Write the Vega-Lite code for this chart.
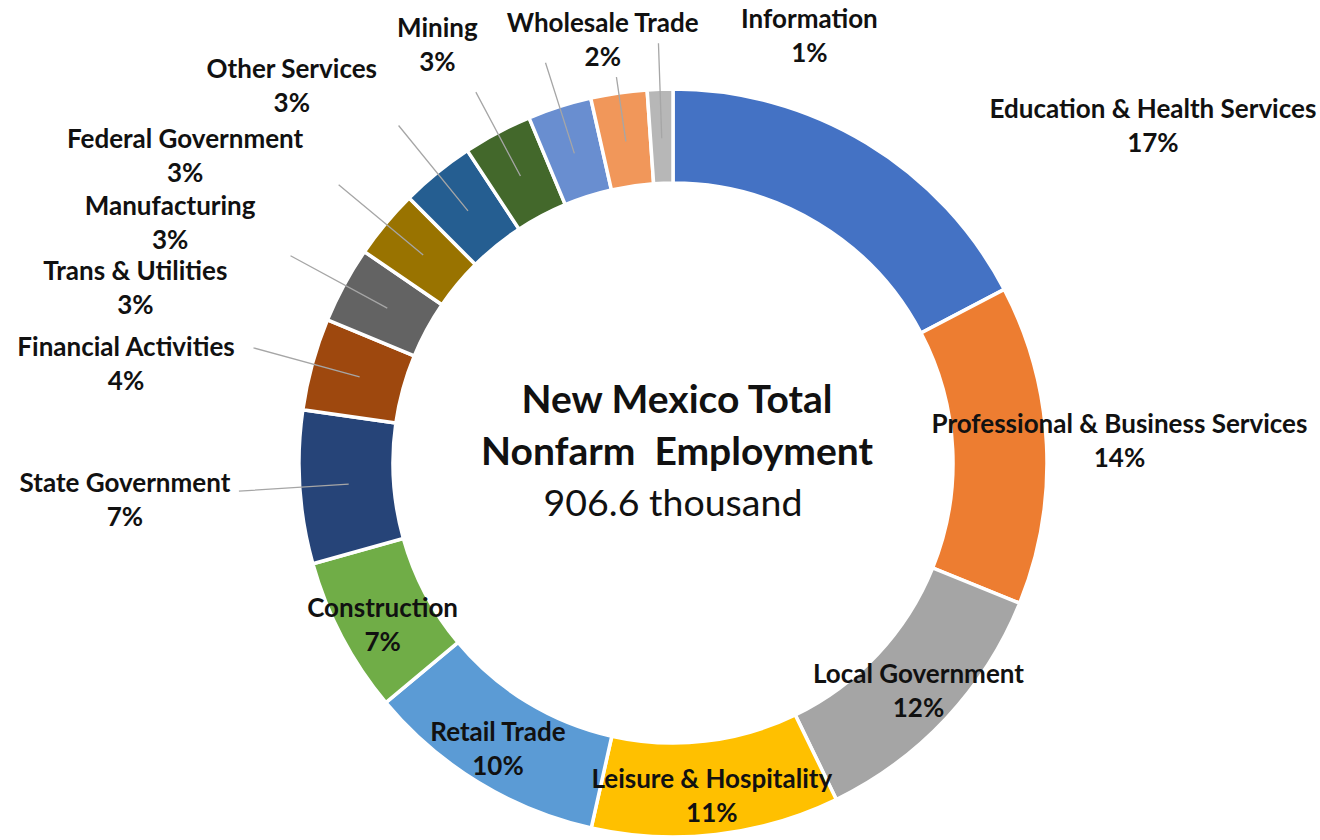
{
  "$schema": "https://vega.github.io/schema/vega-lite/v6.json",
  "width": 1294,
  "height": 754,
  "autosize": {"type": "none"},
  "padding": {"left": 26, "top": 86, "right": 0, "bottom": 0},
  "background": "white",
  "config": {"view": {"stroke": null}, "font": "Lato"},
  "data": {
    "values": [
      {"order": 1, "sector": "Education & Health Services", "value": 157.0, "pct": "17%"},
      {"order": 2, "sector": "Professional & Business Services", "value": 125.1, "pct": "14%"},
      {"order": 3, "sector": "Local Government", "value": 106.0, "pct": "12%"},
      {"order": 4, "sector": "Leisure & Hospitality", "value": 97.0, "pct": "11%"},
      {"order": 5, "sector": "Retail Trade", "value": 94.5, "pct": "10%"},
      {"order": 6, "sector": "Construction", "value": 61.0, "pct": "7%"},
      {"order": 7, "sector": "State Government", "value": 60.0, "pct": "7%"},
      {"order": 8, "sector": "Financial Activities", "value": 36.0, "pct": "4%"},
      {"order": 9, "sector": "Trans & Utilities", "value": 30.0, "pct": "3%"},
      {"order": 10, "sector": "Manufacturing", "value": 27.0, "pct": "3%"},
      {"order": 11, "sector": "Federal Government", "value": 29.0, "pct": "3%"},
      {"order": 12, "sector": "Other Services", "value": 27.0, "pct": "3%"},
      {"order": 13, "sector": "Mining", "value": 25.0, "pct": "3%"},
      {"order": 14, "sector": "Wholesale Trade", "value": 22.0, "pct": "2%"},
      {"order": 15, "sector": "Information", "value": 10.0, "pct": "1%"}
    ]
  },
  "transform": [
    {"window": [{"op": "sum", "field": "value", "as": "cum"}], "sort": [{"field": "order", "order": "ascending"}]},
    {"joinaggregate": [{"op": "sum", "field": "value", "as": "total"}]},
    {"calculate": "(datum.cum - datum.value) / datum.total", "as": "t0"},
    {"calculate": "datum.cum / datum.total", "as": "t1"},
    {"calculate": "(datum.cum - datum.value / 2) / datum.total", "as": "tm"},
    {"calculate": "datum.sector + '\\n' + datum.pct", "as": "label"}
  ],
  "layer": [
    {
      "mark": {"type": "arc", "outerRadius": 374, "innerRadius": 280, "stroke": "white", "strokeWidth": 3.5},
      "encoding": {
        "theta": {"field": "t0", "type": "quantitative", "stack": null, "scale": {"domain": [0, 1], "range": [0, 6.283185307179586], "zero": true, "nice": false}},
        "theta2": {"field": "t1"},
        "color": {
          "field": "sector", "type": "nominal", "legend": null,
          "scale": {
            "domain": ["Education & Health Services", "Professional & Business Services", "Local Government", "Leisure & Hospitality", "Retail Trade", "Construction", "State Government", "Financial Activities", "Trans & Utilities", "Manufacturing", "Federal Government", "Other Services", "Mining", "Wholesale Trade", "Information"],
            "range": ["#4472C4", "#ED7D31", "#A5A5A5", "#FFC000", "#5B9BD5", "#70AD47", "#264478", "#9E480E", "#636363", "#997300", "#255E91", "#43682B", "#698ED0", "#F1975A", "#B7B7B7"]
          }
        }
      }
    },
    {
      "transform": [{"filter": {"field": "sector", "oneOf": ["State Government", "Financial Activities", "Trans & Utilities", "Manufacturing", "Federal Government"]}}],
      "mark": {"type": "arc", "innerRadius": 325, "outerRadius": 435, "stroke": "#A6A6A6", "strokeWidth": 1.3, "fillOpacity": 0},
      "encoding": {
        "theta": {"field": "tm", "type": "quantitative", "stack": null},
        "theta2": {"field": "tm"}
      }
    },
    {
      "transform": [{"filter": {"field": "sector", "oneOf": ["Other Services", "Mining", "Information"]}}],
      "mark": {"type": "arc", "innerRadius": 325, "outerRadius": 420, "stroke": "#A6A6A6", "strokeWidth": 1.3, "fillOpacity": 0},
      "encoding": {
        "theta": {"field": "tm", "type": "quantitative", "stack": null},
        "theta2": {"field": "tm"}
      }
    },
    {
      "transform": [{"filter": {"field": "sector", "oneOf": ["Wholesale Trade"]}}],
      "mark": {"type": "arc", "innerRadius": 325, "outerRadius": 390, "stroke": "#A6A6A6", "strokeWidth": 1.3, "fillOpacity": 0},
      "encoding": {
        "theta": {"field": "tm", "type": "quantitative", "stack": null},
        "theta2": {"field": "tm"}
      }
    },
    {
      "transform": [{"filter": {"field": "sector", "oneOf": ["Local Government", "Leisure & Hospitality", "Retail Trade"]}}],
      "mark": {"type": "text", "radius": 336, "dy": -17, "align": "center", "baseline": "middle", "fontSize": 26, "fontWeight": "bold", "lineHeight": 34, "lineBreak": "\n", "color": "#111111"},
      "encoding": {
        "theta": {"field": "tm", "type": "quantitative", "stack": null},
        "text": {"field": "label", "type": "nominal"}
      }
    },
    {
      "transform": [{"filter": {"field": "sector", "equal": "Construction"}}],
      "mark": {"type": "text", "radius": 336, "dx": 7, "dy": -10, "align": "center", "baseline": "middle", "fontSize": 26, "fontWeight": "bold", "lineHeight": 34, "lineBreak": "\n", "color": "#111111"},
      "encoding": {"theta": {"field": "tm", "type": "quantitative", "stack": null}, "text": {"field": "label", "type": "nominal"}}
    },
    {
      "transform": [{"filter": {"field": "sector", "equal": "Education & Health Services"}}],
      "mark": {"type": "text", "radius": 450, "dx": 247, "dy": 32, "align": "center", "baseline": "middle", "fontSize": 26, "fontWeight": "bold", "lineHeight": 34, "lineBreak": "\n", "color": "#111111"},
      "encoding": {"theta": {"field": "tm", "type": "quantitative", "stack": null}, "text": {"field": "label", "type": "nominal"}}
    },
    {
      "transform": [{"filter": {"field": "sector", "equal": "Professional & Business Services"}}],
      "mark": {"type": "text", "radius": 450, "dx": -3, "dy": -16, "align": "center", "baseline": "middle", "fontSize": 26, "fontWeight": "bold", "lineHeight": 34, "lineBreak": "\n", "color": "#111111"},
      "encoding": {"theta": {"field": "tm", "type": "quantitative", "stack": null}, "text": {"field": "label", "type": "nominal"}}
    },
    {
      "transform": [{"filter": {"field": "sector", "equal": "State Government"}}],
      "mark": {"type": "text", "radius": 450, "dx": -99, "dy": -8, "align": "center", "baseline": "middle", "fontSize": 26, "fontWeight": "bold", "lineHeight": 34, "lineBreak": "\n", "color": "#111111"},
      "encoding": {"theta": {"field": "tm", "type": "quantitative", "stack": null}, "text": {"field": "label", "type": "nominal"}}
    },
    {
      "transform": [{"filter": {"field": "sector", "equal": "Financial Activities"}}],
      "mark": {"type": "text", "radius": 450, "dx": -113, "dy": 4, "align": "center", "baseline": "middle", "fontSize": 26, "fontWeight": "bold", "lineHeight": 34, "lineBreak": "\n", "color": "#111111"},
      "encoding": {"theta": {"field": "tm", "type": "quantitative", "stack": null}, "text": {"field": "label", "type": "nominal"}}
    },
    {
      "transform": [{"filter": {"field": "sector", "equal": "Trans & Utilities"}}],
      "mark": {"type": "text", "radius": 450, "dx": -142, "dy": 23, "align": "center", "baseline": "middle", "fontSize": 26, "fontWeight": "bold", "lineHeight": 34, "lineBreak": "\n", "color": "#111111"},
      "encoding": {"theta": {"field": "tm", "type": "quantitative", "stack": null}, "text": {"field": "label", "type": "nominal"}}
    },
    {
      "transform": [{"filter": {"field": "sector", "equal": "Manufacturing"}}],
      "mark": {"type": "text", "radius": 450, "dx": -157, "dy": 32, "align": "center", "baseline": "middle", "fontSize": 26, "fontWeight": "bold", "lineHeight": 34, "lineBreak": "\n", "color": "#111111"},
      "encoding": {"theta": {"field": "tm", "type": "quantitative", "stack": null}, "text": {"field": "label", "type": "nominal"}}
    },
    {
      "transform": [{"filter": {"field": "sector", "equal": "Federal Government"}}],
      "mark": {"type": "text", "radius": 450, "dx": -204, "dy": 26, "align": "center", "baseline": "middle", "fontSize": 26, "fontWeight": "bold", "lineHeight": 34, "lineBreak": "\n", "color": "#111111"},
      "encoding": {"theta": {"field": "tm", "type": "quantitative", "stack": null}, "text": {"field": "label", "type": "nominal"}}
    },
    {
      "transform": [{"filter": {"field": "sector", "equal": "Other Services"}}],
      "mark": {"type": "text", "radius": 450, "dx": -170, "dy": 4, "align": "center", "baseline": "middle", "fontSize": 26, "fontWeight": "bold", "lineHeight": 34, "lineBreak": "\n", "color": "#111111"},
      "encoding": {"theta": {"field": "tm", "type": "quantitative", "stack": null}, "text": {"field": "label", "type": "nominal"}}
    },
    {
      "transform": [{"filter": {"field": "sector", "equal": "Mining"}}],
      "mark": {"type": "text", "radius": 450, "dx": -99, "dy": -5, "align": "center", "baseline": "middle", "fontSize": 26, "fontWeight": "bold", "lineHeight": 34, "lineBreak": "\n", "color": "#111111"},
      "encoding": {"theta": {"field": "tm", "type": "quantitative", "stack": null}, "text": {"field": "label", "type": "nominal"}}
    },
    {
      "transform": [{"filter": {"field": "sector", "equal": "Wholesale Trade"}}],
      "mark": {"type": "text", "radius": 450, "dx": -5, "dy": 6, "align": "center", "baseline": "middle", "fontSize": 26, "fontWeight": "bold", "lineHeight": 34, "lineBreak": "\n", "color": "#111111"},
      "encoding": {"theta": {"field": "tm", "type": "quantitative", "stack": null}, "text": {"field": "label", "type": "nominal"}}
    },
    {
      "transform": [{"filter": {"field": "sector", "equal": "Information"}}],
      "mark": {"type": "text", "radius": 450, "dx": 152, "dy": 7, "align": "center", "baseline": "middle", "fontSize": 26, "fontWeight": "bold", "lineHeight": 34, "lineBreak": "\n", "color": "#111111"},
      "encoding": {"theta": {"field": "tm", "type": "quantitative", "stack": null}, "text": {"field": "label", "type": "nominal"}}
    },
    {
      "transform": [{"aggregate": [{"op": "sum", "field": "value", "as": "tot"}]}],
      "mark": {"type": "text", "text": ["New Mexico Total", "Nonfarm\u00a0 Employment"], "align": "center", "baseline": "middle", "fontSize": 39, "fontWeight": "bold", "lineHeight": 52, "dx": 4, "dy": -62, "color": "#111111"},
      "encoding": {}
    },
    {
      "transform": [
        {"aggregate": [{"op": "sum", "field": "value", "as": "tot"}]},
        {"calculate": "format(datum.tot, '.1f') + ' thousand'", "as": "tt"}
      ],
      "mark": {"type": "text", "align": "center", "baseline": "middle", "fontSize": 37.5, "fontWeight": "normal", "dy": 42, "color": "#111111"},
      "encoding": {"text": {"field": "tt", "type": "nominal"}}
    }
  ]
}
